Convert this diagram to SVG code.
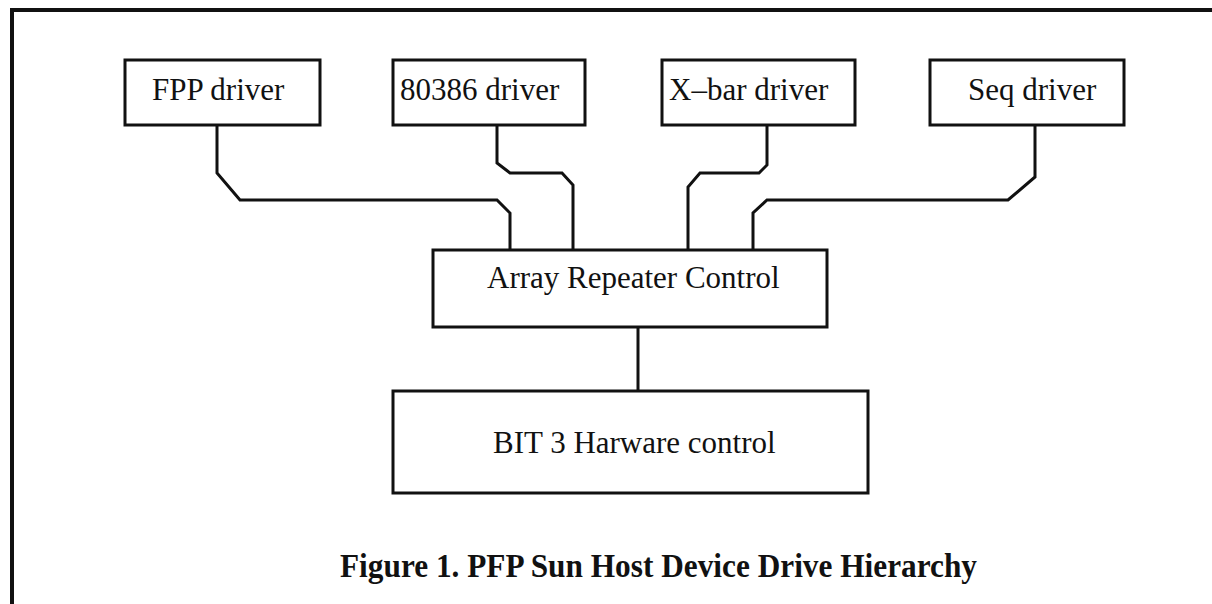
<svg xmlns="http://www.w3.org/2000/svg" width="1212" height="604" viewBox="0 0 1212 604">
<style>
.box{fill:#fff;stroke:#111;stroke-width:3}
.lbl{font-family:"Liberation Serif","Times New Roman",serif;font-size:31px;fill:#111}
.cap{font-family:"Liberation Serif","Times New Roman",serif;font-size:33px;font-weight:bold;fill:#111}
.wire{fill:none;stroke:#111;stroke-width:3;stroke-linejoin:miter}
.frame{fill:none;stroke:#111;stroke-width:4}
</style>
<rect width="1212" height="604" fill="#fff"/>
<g id="frame">
<path class="frame" d="M12,604 V10 H1212"/>
</g>
<g id="connectors">
<path class="wire" d="M217,125 V173 L240,200 H497 L510,213 V250"/>
<path class="wire" d="M497,125 V163 L510,173 H562 L573,185 V250"/>
<path class="wire" d="M767,125 V165 L759,173 H700 L688,187 V250"/>
<path class="wire" d="M1035,125 V177 L1008,200 H767 L753,213 V250"/>
<path class="wire" d="M638,327 V391"/>
</g>
<g id="fpp">
<rect class="box" x="125" y="60" width="195" height="65"/>
<text class="lbl" x="152" y="100">FPP driver</text>
</g>
<g id="i80386">
<rect class="box" x="393" y="60" width="192" height="65"/>
<text class="lbl" x="400" y="100">80386 driver</text>
</g>
<g id="xbar">
<rect class="box" x="662" y="60" width="193" height="65"/>
<text class="lbl" x="669" y="100">X–bar driver</text>
</g>
<g id="seq">
<rect class="box" x="930" y="60" width="194" height="65"/>
<text class="lbl" x="968" y="100">Seq driver</text>
</g>
<g id="array">
<rect class="box" x="433" y="250" width="394" height="77"/>
<text class="lbl" x="487" y="288">Array Repeater Control</text>
</g>
<g id="bit3">
<rect class="box" x="393" y="391" width="475" height="102"/>
<text class="lbl" x="493" y="453">BIT 3 Harware control</text>
</g>
<g id="caption">
<text class="cap" x="340" y="577" textLength="637" lengthAdjust="spacingAndGlyphs">Figure 1. PFP Sun Host Device Drive Hierarchy</text>
</g>
</svg>
